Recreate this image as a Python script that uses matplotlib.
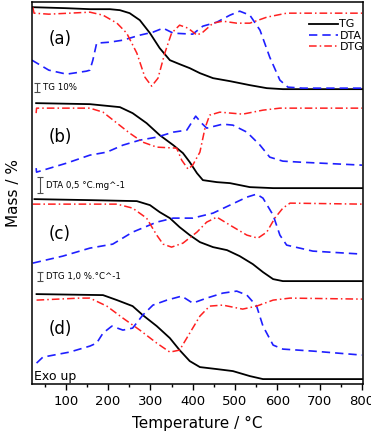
import matplotlib
matplotlib.use("Agg")
import matplotlib.pyplot as plt

# values; vertical unit is the picture's own scale (downwards)
# panel (a)
tg_a_t = [20, 100, 157, 204, 228, 251, 275, 299, 322, 346, 369, 393, 417, 448, 488, 535, 575, 613, 800]
tg_a_y = [7, 8, 9, 9, 10, 13, 20, 33, 48, 60, 64, 68, 73, 78, 81, 85, 88, 89, 89]
dta_a_t = [20, 60, 102, 149, 157, 164, 173, 204, 235, 275, 306, 330, 354, 400, 424, 457, 488, 511,
           535, 559, 582, 606, 625, 660, 800]
dta_a_y = [60, 70, 74, 71, 70, 60, 43, 42, 40, 35, 32, 28, 33, 34, 26, 22, 15, 11,
           15, 30, 57, 80, 87, 88, 88]
dtg_a_t = [22, 25, 60, 157, 188, 221, 244, 268, 287, 303, 318, 334, 350, 369, 389, 410, 424, 448,
           471, 504, 535, 575, 622, 800]
dtg_a_y = [7, 13, 14, 12, 15, 23, 33, 53, 77, 86, 78, 53, 33, 25, 28, 35, 32, 23,
           21, 23, 23, 17, 13, 13]

# panel (b)
tg_b_t = [30, 157, 228, 258, 291, 322, 354, 377, 393, 410, 424, 457, 488, 535, 590, 800]
tg_b_y = [103, 104, 107, 113, 123, 135, 145, 153, 162, 173, 180, 182, 183, 187, 188, 188]
dta_b_t = [30, 31, 102, 157, 197, 235, 275, 315, 354, 386, 398, 407, 421, 433, 471, 495, 528,
           559, 582, 613, 653, 800]
dta_b_y = [168, 172, 163, 155, 152, 145, 140, 137, 132, 130, 122, 116, 123, 128, 124, 125, 132,
           145, 157, 161, 162, 165]
dtg_b_t = [30, 31, 157, 188, 221, 251, 282, 315, 362, 374, 389, 400, 417, 429, 440, 464, 518,
           566, 606, 800]
dtg_b_y = [113, 108, 108, 112, 123, 133, 142, 147, 148, 160, 169, 165, 152, 128, 115, 112, 114,
           110, 108, 108]

# panel (c)
tg_c_t = [26, 157, 268, 299, 322, 346, 369, 393, 417, 448, 481, 511, 542, 566, 590, 613, 800]
tg_c_y = [199, 200, 201, 205, 212, 218, 227, 235, 242, 247, 250, 256, 264, 272, 279, 281, 281]
dta_c_t = [22, 93, 157, 211, 258, 315, 354, 400, 448, 488, 528, 551, 566, 590, 606, 622, 684, 800]
dta_c_y = [263, 256, 248, 244, 232, 222, 218, 218, 213, 205, 197, 194, 198, 215, 235, 245, 251, 254]
dtg_c_t = [22, 221, 258, 291, 315, 330, 350, 377, 410, 433, 457, 488, 528, 554, 575, 594, 613,
           630, 800]
dtg_c_y = [204, 204, 208, 218, 235, 244, 247, 243, 232, 222, 217, 225, 235, 238, 232, 218, 208,
           203, 204]

# panel (d)
tg_d_t = [31, 188, 221, 258, 282, 315, 346, 369, 393, 417, 457, 495, 535, 566, 800]
tg_d_y = [294, 295, 300, 306, 315, 326, 338, 350, 361, 367, 369, 371, 376, 379, 379]
dta_d_t = [31, 46, 109, 157, 173, 188, 209, 235, 258, 282, 306, 339, 374, 400, 433, 471, 504,
           528, 551, 566, 590, 613, 684, 800]
dta_d_y = [363, 357, 352, 346, 343, 333, 326, 330, 328, 315, 305, 300, 296, 303, 298, 293, 291,
           295, 306, 326, 345, 349, 351, 355]
dtg_d_t = [31, 133, 157, 197, 235, 275, 315, 346, 369, 393, 417, 440, 471, 518, 551, 590, 630, 800]
dtg_d_y = [300, 298, 298, 306, 318, 330, 343, 352, 350, 333, 316, 306, 305, 309, 306, 300, 298, 299]

panels = ["(a)", "(b)", "(c)", "(d)"]
panel_y = [39, 137, 234, 329]

fig = plt.figure(figsize=(3.71, 4.34), dpi=100)
ax = fig.add_axes([0.086, 0.115, 0.892, 0.880])

tg = [(tg_a_t, tg_a_y), (tg_b_t, tg_b_y), (tg_c_t, tg_c_y), (tg_d_t, tg_d_y)]
dta = [(dta_a_t, dta_a_y), (dta_b_t, dta_b_y), (dta_c_t, dta_c_y), (dta_d_t, dta_d_y)]
dtg = [(dtg_a_t, dtg_a_y), (dtg_b_t, dtg_b_y), (dtg_c_t, dtg_c_y), (dtg_d_t, dtg_d_y)]

for i in range(4):
    ax.plot(*tg[i], color="black", lw=1.3, label="TG" if i == 0 else None)
    ax.plot(*dta[i], color="#1f1fff", lw=1.2, ls=(0, (5, 3)), label="DTA" if i == 0 else None)
    ax.plot(*dtg[i], color="#ff2020", lw=1.1, ls=(0, (5, 2, 1, 2)), label="DTG" if i == 0 else None)
    ax.text(59, panel_y[i], panels[i], fontsize=12, va="center")

# scale bars
bars = [(37, 83, 92, "TG 10%"), (40, 177, 193, "DTA 0,5 °C.mg^-1"), (40, 272, 281, "DTG 1,0 %.°C^-1")]
for x, y0, y1, txt in bars:
    px = 20 + (x - 32) * 100 / 42.3
    ax.errorbar([px], [(y0 + y1) / 2], yerr=[(y1 - y0) / 2], color="0.3", lw=0.8, capsize=2.5, capthick=0.8)
    ax.text(px + 14, (y0 + y1) / 2, txt, fontsize=6.2, va="center")

ax.text(25, 376, "Exo up", fontsize=9, va="center")

ax.set_xlim(20, 802)
ax.set_ylim(384, 2)
ax.set_yticks([])
ax.set_xticks([100, 200, 300, 400, 500, 600, 700, 800])
ax.set_xticks(range(50, 800, 100), minor=True)
ax.tick_params(axis="x", direction="out", labelsize=9.5, length=4, width=1)
ax.tick_params(axis="x", which="minor", direction="out", length=2.5, width=1)
for s in ax.spines.values():
    s.set_linewidth(1.1)
ax.set_xlabel("Temperature / °C", fontsize=11, labelpad=6)
ax.set_ylabel("Mass / %", fontsize=11, labelpad=8)

ax.legend(loc="upper right", bbox_to_anchor=(1.025, 0.975), frameon=False, fontsize=8,
          handlelength=2.6, handletextpad=0.1, labelspacing=0.1, borderpad=0.2)

fig.savefig("out.png", dpi=100)
